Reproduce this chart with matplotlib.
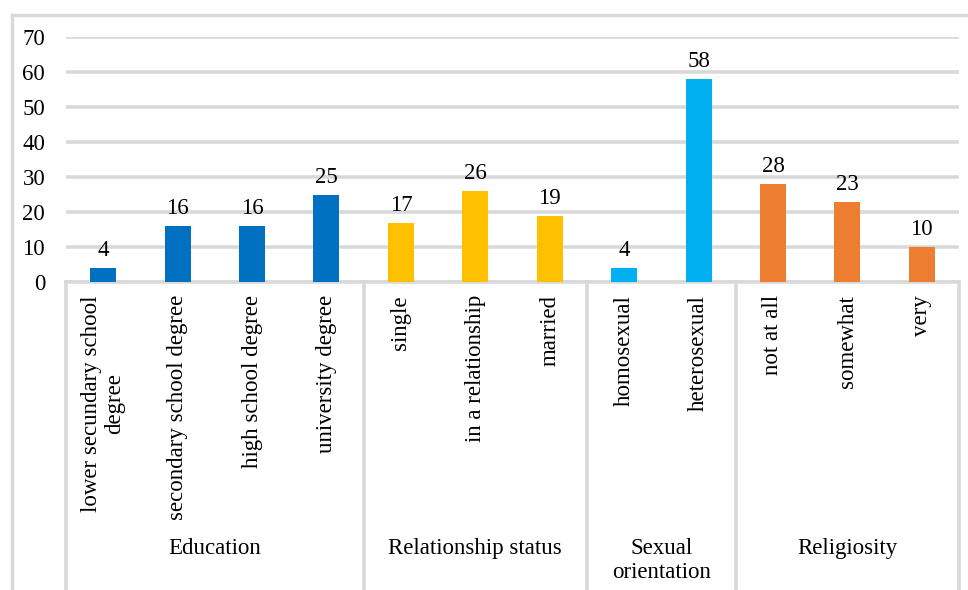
import matplotlib.pyplot as plt
import matplotlib.transforms as mtransforms
import numpy as np

plt.rcParams['font.family'] = ['Liberation Serif', 'DejaVu Serif']

# survey sample composition
groups = ['Education', 'Relationship status', 'Sexual\norientation', 'Religiosity']
categories = [
    ['lower secundary school\ndegree', 'secondary school degree', 'high school degree', 'university degree'],
    ['single', 'in a relationship', 'married'],
    ['homosexual', 'heterosexual'],
    ['not at all', 'somewhat', 'very'],
]
values = [
    [4, 16, 16, 25],
    [17, 26, 19],
    [4, 58],
    [28, 23, 10],
]
colors = ['#0070C0', '#FFC000', '#00B0F0', '#ED7D31']

W, H = 968, 590
fig = plt.figure(figsize=(W / 100, H / 100), dpi=100)
ax = fig.add_axes([66 / W, 1 - 282 / H, (959 - 66) / W, (282 - 37) / H])

grid_c = '#D9D9D9'
fs = 16.5

# chart frame (top and left edges)
fig.add_artist(plt.Line2D([12 / W, 1.0], [1 - 15 / H, 1 - 15 / H], color=grid_c, lw=2.5))
fig.add_artist(plt.Line2D([12 / W, 12 / W], [0, 1 - 15 / H], color=grid_c, lw=2.5))

pos = 0
starts = []
for g, (cats, vals, c) in enumerate(zip(categories, values, colors)):
    x = np.arange(pos, pos + len(vals))
    bars = ax.bar(x, vals, width=0.35, color=c, zorder=3)
    for b, v in zip(bars, vals):
        ax.annotate(str(v), (b.get_x() + b.get_width() / 2, v), xytext=(0, 5),
                    textcoords='offset points', ha='center', va='bottom', fontsize=fs)
    starts.append(pos)
    pos += len(vals)
starts.append(pos)

ax.set_xlim(-0.5, pos - 0.5)
ax.set_ylim(0, 70)
ax.set_yticks(np.arange(0, 71, 10))
ax.set_xticks([])
ax.tick_params(axis='y', length=0, pad=15, labelsize=fs)
ax.yaxis.grid(True, color=grid_c, lw=2.6, zorder=0)
for s in ax.spines.values():
    s.set_visible(False)

# two-level category axis below the plot
trans = mtransforms.blended_transform_factory(ax.transData, fig.transFigure)
y0 = 1 - 282 / H
ax.plot([-0.5, pos - 0.5], [y0, y0], color=grid_c, lw=2.6, transform=trans, clip_on=False)
for s in starts:
    ax.plot([s - 0.5, s - 0.5], [0, y0], color=grid_c, lw=2.6, transform=trans, clip_on=False)

idx = 0
for g, cats in enumerate(categories):
    for cat in cats:
        ax.text(idx, 1 - 295 / H, cat, rotation=90, ha='center', va='top',
                multialignment='center', fontsize=fs, transform=trans, linespacing=1.15)
        idx += 1
    mid = (starts[g] + starts[g + 1] - 1) / 2
    ax.text(mid, 1 - 538 / H, groups[g], ha='center', va='top', fontsize=fs,
            transform=trans, linespacing=1.2)

fig.savefig('out.png', dpi=100)
